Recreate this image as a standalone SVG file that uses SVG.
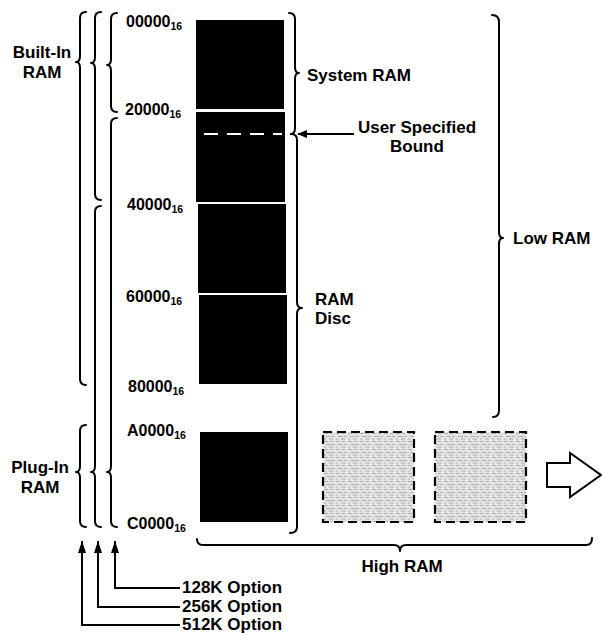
<svg xmlns="http://www.w3.org/2000/svg" width="602" height="635" viewBox="0 0 602 635">
<style>
text{font-family:"Liberation Sans",Arial,sans-serif;font-weight:bold;fill:#000}
.lbl{font-size:17px}
.addr{font-size:16px}
.sub{font-size:10.5px}
.br{fill:none;stroke:#000;stroke-width:2;stroke-linecap:round;stroke-linejoin:round}
.blk{fill:#000}
.gbox{fill:url(#stip);stroke:#000;stroke-width:2.2;stroke-dasharray:9 5}
.ln{fill:none;stroke:#000;stroke-width:2}
</style>
<defs>
<pattern id="stip" width="12" height="8" patternUnits="userSpaceOnUse">
<rect width="12" height="8" fill="#e4e4e4"/>
<path d="M0,1.5h4M6,1.5h3M2,4.5h5M8,4.5h3M0,7h2M5,7h4" stroke="#a8a8a8" stroke-width="0.9"/>
</pattern>
<marker id="ah" viewBox="0 0 10 10" refX="9" refY="5" markerWidth="10" markerHeight="10" markerUnits="userSpaceOnUse" orient="auto">
<path d="M0,1 L10,5 L0,9 Z" fill="#000"/>
</marker>
<marker id="ahu" viewBox="0 0 8 12" refX="4" refY="0" markerWidth="8" markerHeight="12" markerUnits="userSpaceOnUse" orient="0">
<path d="M0,12 L4,0 L8,12 Z" fill="#000"/>
</marker>
</defs>
<rect width="602" height="635" fill="#fff"/>

<g id="memory-column">
<rect class="blk" x="196" y="20" width="88" height="89"/>
<rect class="blk" x="196" y="112" width="89" height="90"/>
<line x1="204" y1="134" x2="282" y2="134" stroke="#fff" stroke-width="2" stroke-dasharray="14 9"/>
<rect class="blk" x="198" y="204" width="88" height="89"/>
<rect class="blk" x="199" y="295" width="88" height="89"/>
<rect class="blk" x="200" y="432" width="88" height="90"/>
</g>

<g id="addresses">
<text class="addr" x="126" y="27">00000<tspan class="sub" dy="3">16</tspan></text>
<text class="addr" x="125" y="115">20000<tspan class="sub" dy="3">16</tspan></text>
<text class="addr" x="127" y="210">40000<tspan class="sub" dy="3">16</tspan></text>
<text class="addr" x="126" y="302">60000<tspan class="sub" dy="3">16</tspan></text>
<text class="addr" x="128" y="392">80000<tspan class="sub" dy="3">16</tspan></text>
<text class="addr" x="127" y="436">A0000<tspan class="sub" dy="3">16</tspan></text>
<text class="addr" x="127" y="529">C0000<tspan class="sub" dy="3">16</tspan></text>
</g>

<g id="high-ram-blocks">
<rect class="gbox" x="323" y="432" width="91" height="90"/>
<rect class="gbox" x="435" y="432" width="91" height="90"/>
<path d="M547,463 L570,463 L570,453 L601,475 L570,497 L570,487 L547,487 Z" fill="#fff" stroke="#000" stroke-width="2" stroke-linejoin="miter"/>
</g>

<g id="built-in-ram">
<text class="lbl" x="42" y="58" text-anchor="middle">Built-In</text>
<text class="lbl" x="42" y="78" text-anchor="middle">RAM</text>
</g>
<g id="plug-in-ram">
<text class="lbl" x="40" y="473" text-anchor="middle">Plug-In</text>
<text class="lbl" x="40" y="493" text-anchor="middle">RAM</text>
</g>
<g id="system-ram"><text class="lbl" x="307" y="81">System RAM</text></g>
<g id="user-bound">
<text class="lbl" x="417" y="133" text-anchor="middle">User Specified</text>
<text class="lbl" x="417" y="152" text-anchor="middle">Bound</text>
</g>
<g id="ram-disc">
<text class="lbl" x="315" y="305">RAM</text>
<text class="lbl" x="315" y="324">Disc</text>
</g>
<g id="low-ram"><text class="lbl" x="513" y="244">Low RAM</text></g>
<g id="high-ram"><text class="lbl" x="402" y="572" text-anchor="middle">High RAM</text></g>
<g id="options">
<text class="lbl" x="182" y="593">128K Option</text>
<text class="lbl" x="182" y="612">256K Option</text>
<text class="lbl" x="182" y="630">512K Option</text>
</g>

<g id="connectors">
<path class="br" d="M86,12 Q80,12 80,18 L80,56 Q80,62 76,62 Q80,62 80,68 L80,379 Q80,385 86,385"/>
<path class="br" d="M86,425 Q80,425 80,431 L80,466 Q80,472 76,472 Q80,472 80,478 L80,521 Q80,527 86,527"/>
<path class="br" d="M101,12 Q95,12 95,18 L95,57 Q95,63 91,63 Q95,63 95,69 L95,194 Q95,200 101,200"/>
<path class="br" d="M101,206 Q95,206 95,212 L95,466 Q95,472 91,472 Q95,472 95,478 L95,521 Q95,527 101,527"/>
<path class="br" d="M117,13 Q111,13 111,19 L111,59 Q111,65 107,65 Q111,65 111,71 L111,106 Q111,112 117,112"/>
<path class="br" d="M117,118 Q111,118 111,124 L111,466 Q111,472 107,472 Q111,472 111,478 L111,521 Q111,527 117,527"/>
<path class="br" d="M289,13 Q295,13 295,19 L295,67 Q295,73 299,73 Q295,73 295,79 L295,128 Q295,134 291,134"/>
<path class="br" d="M291,134 Q297,134 297,140 L297,302 Q297,308 302,308 Q297,308 297,314 L297,527 Q297,533 290,533"/>
<path class="br" d="M492,15 Q499,15 499,22 L499,232 Q499,238 503,238 Q499,238 499,244 L499,410 Q499,417 493,417"/>
<path class="br" d="M197,539 Q197,545 203,545 L394,545 Q400,545 400,551 Q400,545 406,545 L586,545 Q592,545 592,538"/>
<line class="ln" x1="354" y1="134" x2="298" y2="134" marker-end="url(#ah)"/>
<path class="ln" d="M180,588 L115,588 L115,541" marker-end="url(#ahu)"/>
<path class="ln" d="M180,607 L98,607 L98,541" marker-end="url(#ahu)"/>
<path class="ln" d="M180,625 L82,625 L82,541" marker-end="url(#ahu)"/>
</g>
</svg>
